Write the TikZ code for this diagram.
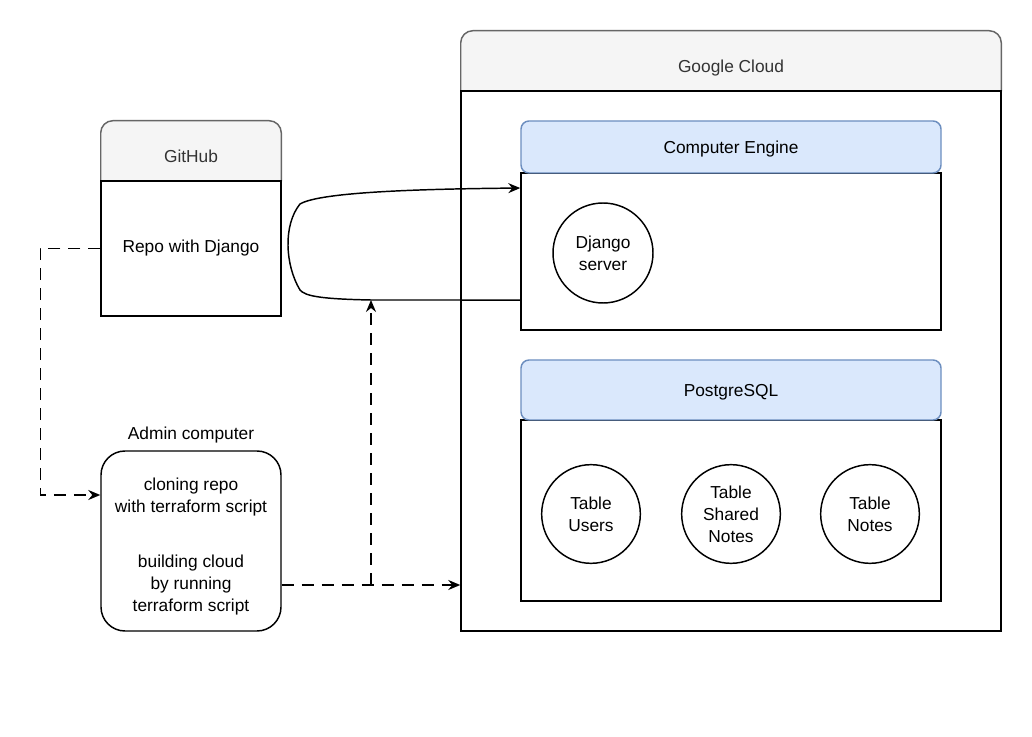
\documentclass[tikz,border=0pt]{standalone}
\usepackage{fontspec}
\setmainfont{Liberation Sans}
\usetikzlibrary{arrows.meta,backgrounds}
\definecolor{grayfill}{HTML}{F5F5F5}
\definecolor{grayline}{HTML}{666666}
\definecolor{graytext}{HTML}{333333}
\definecolor{bluefill}{HTML}{DAE8FC}
\definecolor{blueline}{HTML}{6C8EBF}

\begin{document}
\begin{tikzpicture}[x=0.75pt,y=-0.75pt]
	\tikzstyle{every node}=[font=\fontsize{13}{16.5}\selectfont, align=center, inner sep=0pt]
	\tikzstyle{gray head}=[text=graytext, minimum height=45pt, text height=21pt, text depth=3pt]
	\tikzstyle{blue head}=[draw=blueline, fill=bluefill, line width=1.1pt, rounded corners=6pt, minimum width=315pt, text height=12.7pt, text depth=3pt]
	\tikzstyle{pane}=[draw, line width=1.1pt]
	\tikzstyle{circ node}=[draw, circle, line width=1.1pt, minimum size=74pt]
	\tikzstyle{flow}=[line width=1.1pt, dash pattern=on 9pt off 6pt, -{Stealth[length=9pt,width=7.5pt,inset=3pt]}]
	\tikzstyle{link}=[line width=1.1pt, -{Stealth[length=9pt,width=7.5pt,inset=3pt]}]
	\useasboundingbox (0,0) rectangle (1032,737);

	% Google Cloud
	\node[gray head, minimum width=405pt] (cloudHead) at (731,61) {Google Cloud};
	\node[pane, minimum width=405pt, minimum height=405pt] (cloudBody) at (731,361) {};

	% Computer Engine
	\node[pane, minimum width=315pt, minimum height=117.75pt] (ceBody) at (731,251.5) {};
	\node[blue head, minimum height=39pt] (ceHead) at (731,147) {Computer Engine};
	\node[circ node, minimum size=75pt] (django) at (603,253) {Django\\server};

	% PostgreSQL
	\node[pane, minimum width=315pt, minimum height=135.75pt] (pgBody) at (731,510.5) {};
	\node[blue head, minimum height=45pt] (pgHead) at (731,390) {PostgreSQL};
	\node[circ node] (users) at (591,514) {Table\\Users};
	\node[circ node] (shared) at (731,514) {Table\\Shared\\Notes};
	\node[circ node] (notes) at (870,514) {Table\\Notes};

	% GitHub
	\node[gray head, minimum width=135pt] (ghHead) at (191,151) {GitHub};
	\node[pane, minimum width=135pt, minimum height=101.25pt] (ghBody) at (191,248.5) {Repo with Django};

	% Admin computer
	\node[pane, rounded corners=18pt, minimum width=135pt, minimum height=135pt,
		label={[label distance=5pt]above:Admin computer}] (admin) at (191,541)
		{\rule{0pt}{18pt}cloning repo\\with terraform script\\[25pt]building cloud\\by running\\terraform script};

	\begin{scope}[on background layer]
	\foreach \h in {cloudHead,ghHead}
		\path[draw=grayline, fill=grayfill, line width=1.1pt, rounded corners=9pt] (\h.south west) |- (\h.north) -| (\h.south east);
	\end{scope}

	\coordinate (fork) at (371,585);
	\coordinate (join) at (371,300);

	\draw[flow] (ghBody.west) -- ++(-60,0) |- ([yshift=34.5pt]admin.west);
	\draw[flow] ([yshift=-33pt]admin.east) -- (cloudBody.west |- fork);
	\draw[flow] (fork) -- (join);
	\draw[link] ([yshift=-36.4pt]ceBody.west) -- (join) .. controls (320,299) and (305,296) .. (300,290)
		.. controls (285,265) and (283,225) .. (300,204) .. controls (320,192) and (420,189) .. ([yshift=47.6pt]ceBody.west);

\end{tikzpicture}
\end{document}
